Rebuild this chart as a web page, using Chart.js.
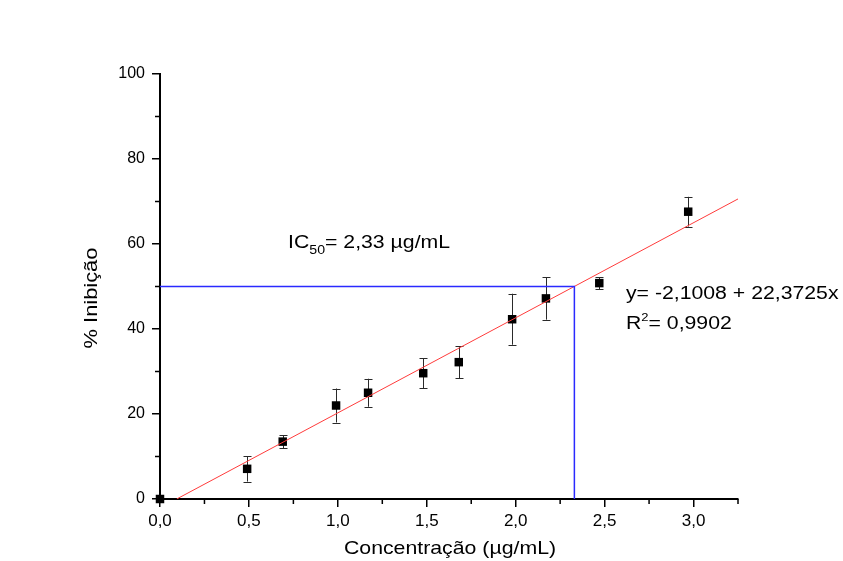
<!DOCTYPE html>
<html>
<head>
<meta charset="utf-8">
<script src="https://cdn.jsdelivr.net/npm/chart.js@4/dist/chart.umd.min.js"></script>
<style>
  html, body { margin: 0; padding: 0; background: #fff; }
  #wrap { width: 843px; height: 561px; position: relative; }
</style>
</head>
<body>
<div id="wrap"><canvas id="ic50Chart"></canvas></div>
<script>
/* IC50 plot: % inhibition vs concentration, with linear fit and IC50 guide lines */

const concX = [0, 0.49, 0.69, 0.99, 1.17, 1.48, 1.68, 1.98, 2.17, 2.47, 2.97];
const inibY = [0, 7.1, 13.5, 22.0, 25.0, 29.6, 32.2, 42.3, 47.2, 50.8, 67.6];
const inibErr = [0, 3.0, 1.5, 4.0, 3.3, 3.5, 3.8, 6.0, 5.0, 1.4, 3.5];

// fitted line ends
const fitX = [0.094, 3.25];
const fitY = [0, 70.6];

// IC50 guide (horizontal at 50 %, then down to the axis)
const icX = [0, 2.33, 2.33];
const icY = [50, 50, 0];

// axis ticks
const xTicks = [0, 0.5, 1.0, 1.5, 2.0, 2.5, 3.0];
const xTickLabels = ["0,0", "0,5", "1,0", "1,5", "2,0", "2,5", "3,0"];
const yTickLabels = ["0", "20", "40", "60", "80", "100"];
const xMinor = [0.25, 0.75, 1.25, 1.75, 2.25, 2.75, 3.25];
const yMinor = [10, 30, 50, 70, 90];

const FONT = "'Liberation Sans', Arial, sans-serif";
const STRETCH = 1.18; // the original's lettering is a bit wide

const toXY = (xs, ys) => xs.map((x, i) => ({ x, y: ys[i] }));

// draw text stretched horizontally, return advance in px
function wideText(ctx, txt, x, y, size, sx = STRETCH) {
  ctx.font = `${size}px ${FONT}`;
  ctx.save();
  ctx.translate(x, y);
  ctx.scale(sx, 1);
  ctx.fillText(txt, 0, 0);
  ctx.restore();
  return ctx.measureText(txt).width * sx;
}

/* ---- error bars, minor ticks, axis titles and annotations ---- */
const extrasPlugin = {
  id: "extras",
  beforeDatasetsDraw(chart) {
    const { ctx, scales: { x, y } } = chart;
    ctx.save();
    ctx.strokeStyle = "#2a2a2a";
    ctx.lineWidth = 1;
    concX.forEach((cx, i) => {
      const e = inibErr[i];
      if (!e) return;
      const px = Math.round(x.getPixelForValue(cx)) + 0.5;
      const top = y.getPixelForValue(inibY[i] + e);
      const bot = y.getPixelForValue(inibY[i] - e);
      ctx.beginPath();
      ctx.moveTo(px, top); ctx.lineTo(px, bot);
      ctx.moveTo(px - 4, Math.round(top) + 0.5); ctx.lineTo(px + 4, Math.round(top) + 0.5);
      ctx.moveTo(px - 4, Math.round(bot) + 0.5); ctx.lineTo(px + 4, Math.round(bot) + 0.5);
      ctx.stroke();
    });
    ctx.restore();
  },
  afterDraw(chart) {
    const { ctx, chartArea: a, scales: { x, y } } = chart;
    ctx.save();
    // minor ticks
    ctx.strokeStyle = "#000";
    ctx.lineWidth = 1.5;
    ctx.beginPath();
    xMinor.forEach(v => {
      const px = x.getPixelForValue(v);
      ctx.moveTo(px, a.bottom); ctx.lineTo(px, a.bottom + 5);
    });
    yMinor.forEach(v => {
      const py = y.getPixelForValue(v);
      ctx.moveTo(a.left, py); ctx.lineTo(a.left - 5, py);
    });
    ctx.stroke();

    ctx.fillStyle = "#000";
    // axis titles
    ctx.textAlign = "center";
    ctx.textBaseline = "middle";
    wideText(ctx, "Concentração (µg/mL)", (a.left + a.right) / 2 + 1, 549, 19, 1.12);
    ctx.save();
    ctx.translate(92, 298);
    ctx.rotate(-Math.PI / 2);
    wideText(ctx, "% Inibição", 0, 0, 19, 1.15);
    ctx.restore();

    // IC50 label
    ctx.textAlign = "left";
    ctx.textBaseline = "alphabetic";
    let tx = x.getPixelForValue(0.72), ty = y.getPixelForValue(59);
    tx += wideText(ctx, "IC", tx, ty, 18);
    tx += wideText(ctx, "50", tx, ty + 6, 12);
    wideText(ctx, "= 2,33 µg/mL", tx, ty, 18);

    // regression text
    const ex = x.getPixelForValue(2.62);
    wideText(ctx, "y= -2,1008 + 22,3725x", ex, y.getPixelForValue(47.0), 18);
    const ry = y.getPixelForValue(39.9);
    let rx = ex + wideText(ctx, "R", ex, ry, 18);
    rx += wideText(ctx, "2", rx, ry - 8, 11);
    wideText(ctx, "= 0,9902", rx, ry, 18);
    ctx.restore();
  }
};

const ctx = document.getElementById("ic50Chart").getContext("2d");
new Chart(ctx, {
  type: "scatter",
  data: {
    datasets: [
      {
        label: "IC50",
        type: "line",
        data: toXY(icX, icY),
        borderColor: "#2a2aff",
        borderWidth: 1.5,
        pointRadius: 0,
        fill: false,
        tension: 0
      },
      {
        label: "Ajuste",
        type: "line",
        data: toXY(fitX, fitY),
        borderColor: "#ff3b3b",
        borderWidth: 1,
        pointRadius: 0,
        fill: false,
        tension: 0
      },
      {
        label: "% Inibição",
        data: toXY(concX, inibY),
        pointStyle: "rect",
        pointRadius: 6,
        backgroundColor: "#000",
        borderColor: "#000",
        borderWidth: 0,
        clip: false
      }
    ]
  },
  options: {
    responsive: true,
    maintainAspectRatio: false,
    animation: false,
    layout: { padding: { left: 0, top: 74, right: 105, bottom: 0 } },
    plugins: {
      legend: { display: false },
      tooltip: { enabled: false }
    },
    scales: {
      x: {
        type: "linear",
        min: 0,
        max: 3.25,
        afterFit: (s) => { s.height = 62; },
        afterBuildTicks: (s) => { s.ticks = xTicks.map(v => ({ value: v })); },
        border: { display: true, color: "#000", width: 2 },
        grid: { display: true, drawOnChartArea: false, drawTicks: true, tickLength: 8, color: "#000", lineWidth: 1.5 },
        ticks: {
          color: "#000",
          font: { family: FONT, size: 17 },
          padding: 4,
          maxRotation: 0,
          callback: (v) => xTickLabels[xTicks.indexOf(v)] ?? ""
        }
      },
      y: {
        type: "linear",
        min: 0,
        max: 100,
        afterFit: (s) => { s.width = 160; },
        border: { display: true, color: "#000", width: 2 },
        grid: { display: true, drawOnChartArea: false, drawTicks: true, tickLength: 8, color: "#000", lineWidth: 1.5 },
        ticks: {
          stepSize: 20,
          color: "#000",
          font: { family: FONT, size: 16 },
          padding: 7,
          callback: (v) => yTickLabels[v / 20] ?? ""
        }
      }
    }
  },
  plugins: [extrasPlugin]
});
</script>
</body>
</html>
